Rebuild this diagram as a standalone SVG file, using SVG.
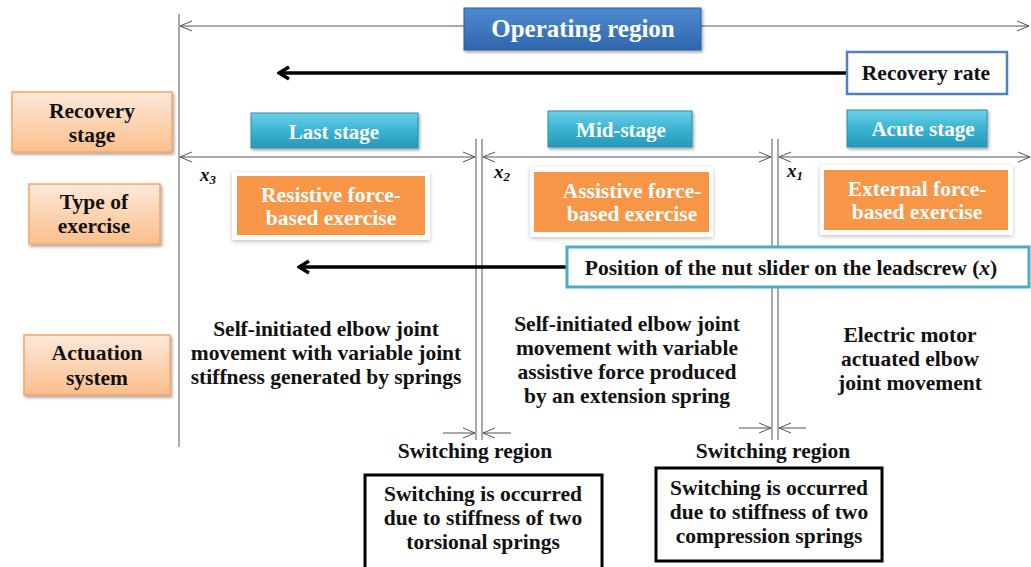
<svg xmlns="http://www.w3.org/2000/svg" width="1031" height="567" viewBox="0 0 1031 567">
  <defs>
    <linearGradient id="gBlue" x1="0" y1="0" x2="0" y2="1">
      <stop offset="0" stop-color="#4f8ad0"/>
      <stop offset="1" stop-color="#2f66ad"/>
    </linearGradient>
    <linearGradient id="gCyan" x1="0" y1="0" x2="0" y2="1">
      <stop offset="0" stop-color="#6fd0e8"/>
      <stop offset="0.5" stop-color="#3ab4d4"/>
      <stop offset="1" stop-color="#2798b8"/>
    </linearGradient>
    <linearGradient id="gPeach" x1="0" y1="0" x2="0" y2="1">
      <stop offset="0" stop-color="#fde9da"/>
      <stop offset="1" stop-color="#fbbf8c"/>
    </linearGradient>
    <filter id="shadow" x="-10%" y="-20%" width="130%" height="150%">
      <feDropShadow dx="1.5" dy="2" stdDeviation="1.5" flood-color="#000" flood-opacity="0.35"/>
    </filter>
    <filter id="halo" x="-10%" y="-20%" width="130%" height="150%">
      <feDropShadow dx="0" dy="1.5" stdDeviation="2" flood-color="#000" flood-opacity="0.25"/>
    </filter>
    <marker id="open" viewBox="0 0 12 12" refX="12" refY="6" markerWidth="12" markerHeight="12" markerUnits="userSpaceOnUse" orient="auto-start-reverse">
      <path d="M0,1 L12,6 L0,11" fill="none" stroke="#555" stroke-width="1"/>
    </marker>
    <marker id="bold" viewBox="0 0 14 16" refX="12" refY="8" markerWidth="14" markerHeight="16" markerUnits="userSpaceOnUse" orient="auto-start-reverse">
      <path d="M2,2 L12,8 L2,14" fill="none" stroke="#000" stroke-width="3.5" stroke-linejoin="miter"/>
    </marker>
  </defs>
  <style>
    text { font-family: "Liberation Serif", "DejaVu Serif", serif; font-weight: bold; text-anchor: middle; }
    .dim { stroke: #555; stroke-width: 1; fill: none; }
    .thick { stroke: #000; stroke-width: 3.5; fill: none; }
    .w { fill: #fff; }
    .k { fill: #111; }
    .lbl { font-size: 21.5px; }
    .stg { font-size: 21px; }
    .body { font-size: 21.5px; }
    .peach { fill: url(#gPeach); stroke: #f7a462; stroke-width: 1.5; filter: url(#shadow); }
    .cyan { fill: url(#gCyan); stroke: #2a8fab; stroke-width: 1; filter: url(#shadow); }
    .orange { fill: #f79646; }
    .card { fill: #fff; filter: url(#halo); }
    .xl { font-size: 19px; font-style: italic; text-anchor: start; }
  </style>

  <!-- dimension and guide lines -->
  <g id="connectors">
    <line class="dim" x1="179" y1="14" x2="179" y2="447"/>
    <line class="dim" x1="180" y1="26" x2="1029" y2="26" marker-start="url(#open)" marker-end="url(#open)"/>
    <line class="dim" x1="180" y1="157" x2="475" y2="157" marker-start="url(#open)" marker-end="url(#open)"/>
    <line class="dim" x1="483" y1="157" x2="771" y2="157" marker-start="url(#open)" marker-end="url(#open)"/>
    <line class="dim" x1="779" y1="157" x2="1030" y2="157" marker-start="url(#open)" marker-end="url(#open)"/>
    <line class="dim" x1="476" y1="139" x2="476" y2="440"/>
    <line class="dim" x1="482" y1="139" x2="482" y2="440"/>
    <line class="dim" x1="772" y1="139" x2="772" y2="440"/>
    <line class="dim" x1="778" y1="139" x2="778" y2="440"/>
    <line class="dim" x1="443" y1="433" x2="475" y2="433" marker-end="url(#open)"/>
    <line class="dim" x1="511" y1="433" x2="483" y2="433" marker-end="url(#open)"/>
    <line class="dim" x1="739" y1="428" x2="771" y2="428" marker-end="url(#open)"/>
    <line class="dim" x1="806" y1="428" x2="779" y2="428" marker-end="url(#open)"/>
    <line class="thick" x1="279" y1="73" x2="846" y2="73" marker-start="url(#bold)"/>
    <line class="thick" x1="299" y1="267" x2="567" y2="267" marker-start="url(#bold)"/>
  </g>

  <!-- row headers -->
  <g id="recovery-stage">
    <rect class="peach" x="12" y="92" width="160" height="60"/>
    <text class="k lbl" x="92" y="118">Recovery</text>
    <text class="k lbl" x="92" y="142">stage</text>
  </g>
  <g id="type-of-exercise">
    <rect class="peach" x="29" y="184" width="131" height="60"/>
    <text class="k lbl" x="94" y="209">Type of</text>
    <text class="k lbl" x="94" y="233">exercise</text>
  </g>
  <g id="actuation-system">
    <rect class="peach" x="24" y="335" width="146" height="60"/>
    <text class="k lbl" x="97" y="360">Actuation</text>
    <text class="k lbl" x="97" y="385">system</text>
  </g>

  <!-- top labels -->
  <g id="operating-region">
    <rect x="464" y="8" width="237" height="42" fill="url(#gBlue)" stroke="#2c5d9e" stroke-width="1" filter="url(#shadow)"/>
    <text class="w" x="583" y="37" font-size="25px">Operating region</text>
  </g>
  <g id="recovery-rate">
    <rect x="847" y="52" width="160" height="42" fill="#fff" stroke="#4f81bd" stroke-width="2.5"/>
    <text class="k lbl" x="926" y="80">Recovery rate</text>
  </g>

  <!-- stages -->
  <g id="last-stage">
    <rect class="cyan" x="251" y="113" width="167" height="35"/>
    <text class="w stg" x="334" y="139">Last stage</text>
  </g>
  <g id="mid-stage">
    <rect class="cyan" x="548" y="111" width="144" height="36"/>
    <text class="w stg" x="621" y="137">Mid-stage</text>
  </g>
  <g id="acute-stage">
    <rect class="cyan" x="847" y="110" width="140" height="37"/>
    <text class="w stg" x="923" y="136">Acute stage</text>
  </g>

  <!-- position markers -->
  <g id="x-labels" class="k">
    <text class="xl" x="200" y="181">x<tspan font-size="13px" dy="3">3</tspan></text>
    <text class="xl" x="494" y="178">x<tspan font-size="13px" dy="3">2</tspan></text>
    <text class="xl" x="787" y="177">x<tspan font-size="13px" dy="3">1</tspan></text>
  </g>

  <!-- exercise types -->
  <g id="resistive-exercise">
    <rect class="card" x="232" y="172" width="198" height="68"/>
    <rect class="orange" x="237" y="176" width="188" height="59"/>
    <text class="w lbl" x="331" y="202">Resistive force-</text>
    <text class="w lbl" x="331" y="225">based exercise</text>
  </g>
  <g id="assistive-exercise">
    <rect class="card" x="530" y="167" width="183" height="70"/>
    <rect class="orange" x="534" y="172" width="175" height="60"/>
    <text class="w lbl" x="632" y="198">Assistive force-</text>
    <text class="w lbl" x="632" y="221">based exercise</text>
  </g>
  <g id="external-exercise">
    <rect class="card" x="820" y="165" width="193" height="70"/>
    <rect class="orange" x="824" y="170" width="184" height="60"/>
    <text class="w lbl" x="917" y="196">External force-</text>
    <text class="w lbl" x="917" y="219">based exercise</text>
  </g>

  <!-- leadscrew position -->
  <g id="nut-position">
    <rect x="567" y="247" width="462" height="40" fill="#fff" stroke="#4bacc6" stroke-width="3"/>
    <text class="k lbl" x="791" y="275">Position of the nut slider on the leadscrew (<tspan font-style="italic">x</tspan>)</text>
  </g>

  <!-- actuation descriptions -->
  <g id="actuation-springs" class="k body">
    <text x="326" y="336">Self-initiated elbow joint</text>
    <text x="326" y="360">movement with variable joint</text>
    <text x="326" y="384">stiffness generated by springs</text>
  </g>
  <g id="actuation-extension" class="k body">
    <text x="627" y="331">Self-initiated elbow joint</text>
    <text x="627" y="355">movement with variable</text>
    <text x="627" y="379">assistive force produced</text>
    <text x="627" y="403">by an extension spring</text>
  </g>
  <g id="actuation-motor" class="k body">
    <text x="910" y="342">Electric motor</text>
    <text x="910" y="366">actuated elbow</text>
    <text x="910" y="390">joint movement</text>
  </g>

  <!-- switching regions -->
  <g id="switching-left">
    <text class="k body" x="475" y="458">Switching region</text>
    <rect x="365" y="475" width="237" height="94" fill="#fff" stroke="#000" stroke-width="3"/>
    <text class="k body" x="483" y="501">Switching is occurred</text>
    <text class="k body" x="483" y="525">due to stiffness of two</text>
    <text class="k body" x="483" y="549">torsional springs</text>
  </g>
  <g id="switching-right">
    <text class="k body" x="773" y="458">Switching region</text>
    <rect x="656" y="468" width="226" height="93" fill="#fff" stroke="#000" stroke-width="3"/>
    <text class="k body" x="769" y="495">Switching is occurred</text>
    <text class="k body" x="769" y="519">due to stiffness of two</text>
    <text class="k body" x="769" y="543">compression springs</text>
  </g>
</svg>
